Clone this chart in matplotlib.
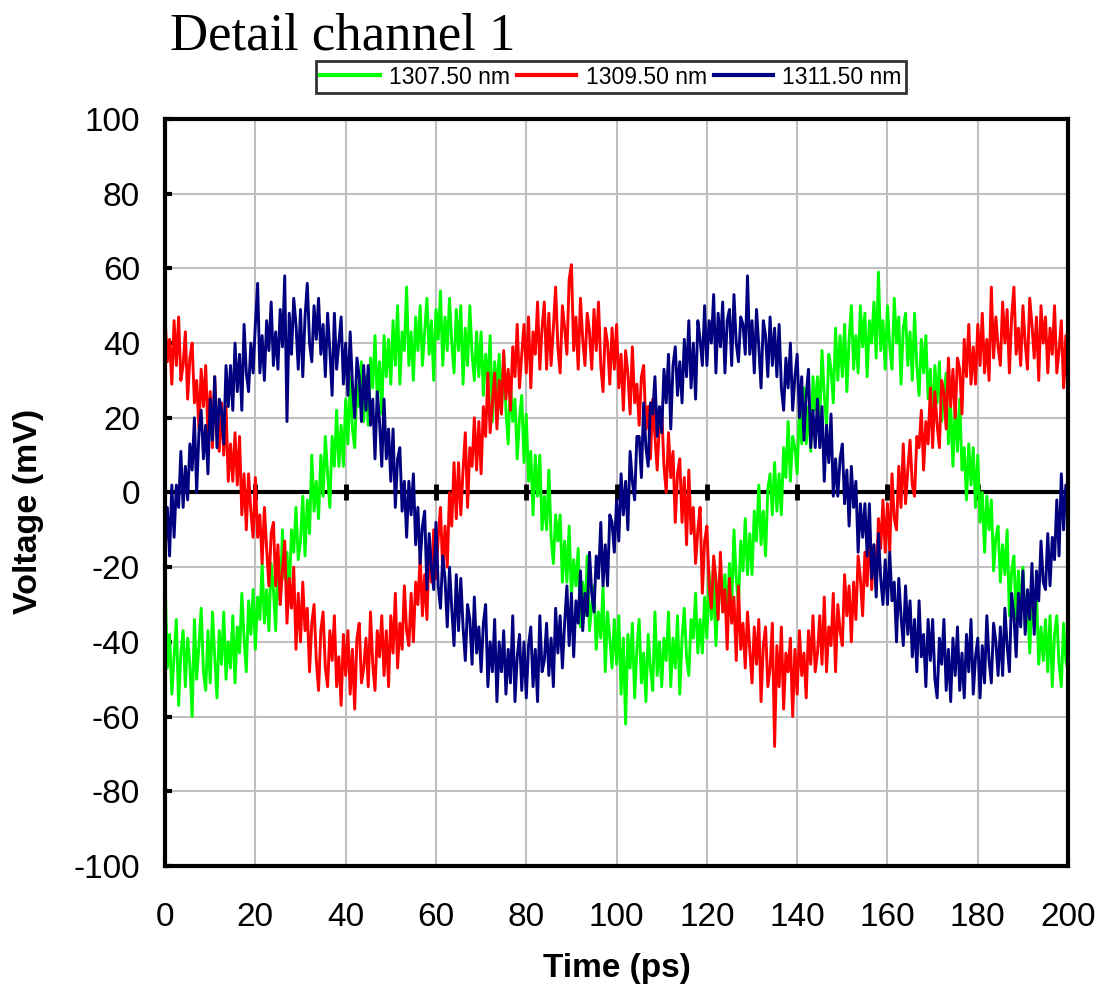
import matplotlib
matplotlib.use("Agg")
import matplotlib.pyplot as plt
import numpy as np

plt.rcParams["axes.unicode_minus"] = False

# time axis in ps, 0.5 ps steps
time_ps = np.arange(0, 200.5, 0.5)

labels = ["1307.50 nm", "1309.50 nm", "1311.50 nm"]
colors = ["#00ff00", "#ff0000", "#000080"]

v_1307 = [
    -22, -47, -38, -54, -44, -34, -57, -43, -37, -52,
    -39, -46, -60, -34, -50, -41, -31, -48, -53, -37,
    -51, -32, -44, -55, -37, -46, -32, -50, -40, -47,
    -33, -51, -36, -43, -27, -39, -48, -29, -38, -26,
    -42, -28, -34, -19, -35, -26, -37, -19, -26, -37,
    -17, -30, -10, -23, -16, -28, -10, -16, -4, -18,
    -13, -1, -17, -2, -11, 10, -5, 3, -7, 10,
    -1, 15, 5, -4, 15, 7, 22, 7, 18, 7,
    25, 13, 31, 17, 12, 29, 23, 35, 19, 31,
    18, 36, 28, 42, 25, 35, 21, 42, 31, 41,
    29, 46, 34, 50, 29, 43, 38, 55, 34, 43,
    30, 47, 38, 50, 34, 43, 52, 37, 46, 30,
    49, 41, 54, 34, 47, 38, 52, 40, 32, 49,
    38, 50, 29, 44, 34, 50, 37, 30, 43, 31,
    43, 26, 37, 29, 42, 19, 35, 27, 37, 21,
    37, 22, 13, 30, 19, 25, 9, 20, 26, 8,
    21, 3, 11, -6, 10, -1, 10, -10, -1, -10,
    6, -12, -19, -6, -13, -6, -24, -13, -24, -9,
    -28, -18, -25, -15, -36, -24, -33, -17, -37, -30,
    -25, -42, -32, -39, -25, -48, -32, -39, -47, -34,
    -46, -33, -54, -39, -62, -38, -47, -35, -55, -42,
    -34, -51, -43, -56, -38, -47, -53, -32, -49, -40,
    -52, -39, -45, -32, -52, -39, -47, -33, -54, -39,
    -31, -44, -49, -34, -39, -27, -43, -34, -43, -28,
    -39, -21, -34, -23, -41, -27, -20, -32, -22, -34,
    -19, -31, -10, -23, -30, -13, -21, -7, -22, -11,
    -22, -5, -13, 2, -14, -5, -17, 1, 5, -6,
    8, -5, 5, -6, 12, 4, 19, 3, 15, 12,
    5, 23, 13, 28, 13, 23, 11, 31, 22, 31,
    20, 38, 26, 18, 37, 33, 24, 44, 30, 42,
    31, 45, 27, 41, 50, 33, 42, 32, 50, 39,
    48, 31, 46, 40, 51, 36, 59, 38, 46, 33,
    50, 39, 33, 52, 40, 47, 29, 44, 48, 34,
    43, 30, 48, 34, 26, 41, 32, 42, 25, 33,
    18, 34, 24, 35, 19, 26, 32, 13, 23, 7,
    24, 11, 25, 6, 12, -2, 13, 2, 12, -4,
    10, -8, 0, -16, -1, -10, -2, -21, -12, -9,
    -24, -14, -22, -10, -33, -21, -17, -34, -21, -32,
    -20, -36, -28, -43, -28, -36, -27, -46, -36, -45,
    -34, -48, -33, -52, -38, -33, -46, -52, -35, -45,
    -48,
]

v_1309 = [
    47, 35, 41, 29, 46, 34, 47, 30, 34, 43,
    25, 36, 40, 24, 30, 17, 33, 23, 34, 16,
    27, 12, 31, 16, 11, 24, 10, 23, 3, 13,
    3, 16, 2, 15, -6, 5, -10, 5, -5, -12,
    4, -12, -6, -19, -4, -15, -25, -11, -8, -25,
    -14, -30, -21, -13, -35, -23, -31, -20, -42, -27,
    -40, -24, -37, -31, -48, -35, -30, -45, -53, -37,
    -32, -47, -52, -37, -45, -33, -52, -44, -57, -38,
    -49, -37, -54, -42, -58, -39, -35, -51, -47, -39,
    -52, -32, -46, -53, -37, -44, -33, -49, -37, -52,
    -33, -43, -27, -47, -35, -42, -25, -37, -41, -27,
    -40, -24, -30, -17, -33, -22, -34, -14, -24, -10,
    -23, -12, -4, -21, -9, -20, 0, -9, 8, -7,
    8, -6, 6, 16, -4, 12, 7, 20, 6, 19,
    5, 23, 15, 32, 16, 24, 32, 17, 30, 21,
    38, 25, 33, 22, 39, 31, 45, 28, 37, 45,
    32, 47, 28, 43, 37, 51, 33, 44, 51, 33,
    48, 34, 44, 55, 39, 32, 50, 44, 37, 57,
    61, 38, 47, 33, 52, 41, 34, 48, 43, 33,
    49, 38, 51, 34, 27, 44, 40, 29, 44, 33,
    45, 28, 37, 22, 38, 32, 21, 39, 24, 29,
    18, 31, 34, 17, 23, 9, 25, 15, 6, 19,
    22, 7, 0, 16, 4, 11, -8, 5, 9, -8,
    4, -14, 6, -11, -4, -19, -10, -4, -27, -13,
    -9, -25, -31, -17, -23, -34, -16, -32, -26, -42,
    -23, -35, -28, -45, -25, -42, -35, -47, -32, -42,
    -51, -36, -46, -34, -56, -41, -36, -52, -47, -35,
    -68, -41, -52, -36, -58, -43, -48, -39, -60, -42,
    -54, -37, -49, -43, -55, -37, -46, -33, -48, -43,
    -33, -46, -28, -48, -36, -41, -27, -48, -30, -37,
    -41, -22, -33, -25, -40, -24, -34, -17, -23, -33,
    -16, -25, -8, -26, -14, -26, -7, -15, -2, -16,
    -3, -16, 5, -7, -10, 7, -4, 13, -3, 6,
    14, 2, -1, 15, 12, 22, 6, 19, 13, 28,
    12, 27, 18, 12, 30, 27, 17, 36, 23, 33,
    20, 36, 33, 21, 41, 31, 45, 29, 39, 29,
    45, 34, 48, 32, 41, 30, 55, 36, 47, 39,
    34, 51, 40, 49, 32, 47, 55, 37, 44, 34,
    50, 40, 33, 52, 45, 36, 47, 30, 50, 40,
    47, 32, 44, 37, 50, 32, 38, 46, 28, 42,
    23,
]

v_1311 = [
    -16, -4, -17, 2, -12, 2, -4, 11, -4, 7,
    -2, 13, 6, 20, 0, 16, 22, 9, 18, 5,
    25, 14, 31, 12, 25, 22, 13, 34, 23, 34,
    22, 40, 27, 37, 22, 45, 32, 27, 40, 32,
    45, 56, 32, 42, 30, 46, 38, 51, 34, 43,
    33, 49, 39, 58, 19, 48, 37, 52, 45, 33,
    49, 31, 47, 56, 40, 35, 50, 41, 52, 37,
    45, 31, 48, 38, 26, 48, 33, 40, 47, 29,
    40, 26, 43, 29, 20, 36, 31, 19, 34, 22,
    34, 18, 25, 9, 27, 19, 7, 25, 9, 17,
    3, 17, -4, 9, 12, -5, 3, -12, 3, -6,
    5, -14, -4, -19, -9, -5, -26, -11, -20, -26,
    -8, -25, -31, -17, -23, -36, -20, -31, -41, -22,
    -37, -23, -36, -45, -30, -34, -46, -28, -43, -36,
    -48, -35, -30, -52, -40, -48, -34, -56, -40, -48,
    -37, -54, -42, -51, -33, -56, -44, -38, -53, -40,
    -55, -41, -36, -52, -42, -56, -33, -48, -45, -35,
    -49, -39, -52, -31, -43, -33, -47, -35, -25, -41,
    -27, -44, -29, -35, -21, -37, -27, -33, -16, -27,
    -32, -17, -23, -8, -25, -14, -25, -6, -8, -16,
    -2, -13, 5, -6, 3, -10, 11, 3, -2, 15,
    15, 4, 24, 12, 7, 24, 21, 31, 15, 23,
    16, 33, 24, 37, 17, 34, 39, 26, 35, 24,
    41, 31, 46, 28, 40, 25, 46, 41, 34, 50,
    34, 46, 40, 53, 32, 48, 39, 51, 32, 46,
    49, 34, 53, 40, 35, 47, 45, 37, 58, 37,
    46, 32, 49, 39, 28, 46, 42, 31, 47, 34,
    44, 31, 45, 28, 22, 36, 28, 40, 22, 31,
    37, 20, 31, 14, 26, 33, 12, 22, 12, 25,
    12, 23, 3, 18, 8, 21, -1, 9, -1, 9,
    13, -3, 6, -9, 7, -4, 3, -16, -3, -12,
    -3, -17, -3, -23, -14, -28, -11, -23, -30, -18,
    -30, -16, -29, -24, -40, -23, -33, -41, -25, -38,
    -29, -44, -34, -48, -29, -44, -38, -52, -34, -45,
    -34, -50, -55, -39, -46, -34, -53, -42, -56, -39,
    -49, -36, -53, -43, -55, -38, -48, -34, -54, -44,
    -39, -55, -41, -51, -33, -45, -51, -35, -40, -49,
    -36, -49, -31, -41, -48, -27, -33, -44, -27, -36,
    -21, -38, -26, -34, -19, -38, -21, -29, -13, -24,
    -26, -11, -25, -12, -18, -2, -17, 5, -10, 2,
    -8,
]

x_ticks = np.arange(0, 201, 20)
y_ticks = np.arange(-100, 101, 20)

fig = plt.figure(figsize=(11.19, 9.9), dpi=100)
ax = fig.add_axes([0.1475, 0.1253, 0.807, 0.7545])

ax.grid(True, color="#c0c0c0", linewidth=1.5)
ax.set_axisbelow(True)

# zero line with its own tick marks
ax.axhline(0, color="black", linewidth=3, zorder=1.5)
ax.plot(x_ticks[1:-1], np.zeros(len(x_ticks) - 2), linestyle="none",
        marker="|", markersize=12, markeredgewidth=3.5, color="black", zorder=1.6)

series = [v_1307, v_1309, v_1311]
for vals, lab, col in zip(series, labels, colors):
    ax.plot(time_ps, vals, color=col, linewidth=2.1, label=lab, zorder=2)

ax.set_xlim(0, 200)
ax.set_ylim(-100, 100)
ax.set_xticks(x_ticks)
ax.set_yticks(y_ticks)
for sp in ax.spines.values():
    sp.set_linewidth(3)
    sp.set_color("black")

ax.tick_params(axis="x", length=0, pad=26, labelsize=24)
ax.tick_params(axis="y", direction="in", length=5, width=3, pad=18, labelsize=24)
for lbl in ax.get_xticklabels() + ax.get_yticklabels():
    lbl.set_fontfamily("Liberation Sans")

ax.set_xlabel("Time (ps)", fontsize=24, fontweight="bold",
              fontfamily="Liberation Sans", labelpad=14)
ax.set_ylabel("Voltage (mV)", fontsize=24.5, fontweight="bold",
              fontfamily="Liberation Sans")
ax.yaxis.set_label_coords(-0.134, 0.475)

fig.text(170 / 1119, 1 - 49 / 990, "Detail channel 1", fontsize=38,
         fontfamily="Liberation Serif", va="baseline", ha="left")

leg = fig.legend(loc="center", bbox_to_anchor=(611 / 1119, 1 - 77 / 990),
                 ncol=3, frameon=True, fancybox=False, edgecolor="black",
                 prop={"family": "Liberation Sans", "size": 16.5},
                 handlelength=2.6, handletextpad=0.4, columnspacing=0.3,
                 borderpad=0.2, borderaxespad=0)
leg.get_frame().set_linewidth(2)
for line in leg.get_lines():
    line.set_linewidth(3)

fig.savefig("out.png", dpi=100)
